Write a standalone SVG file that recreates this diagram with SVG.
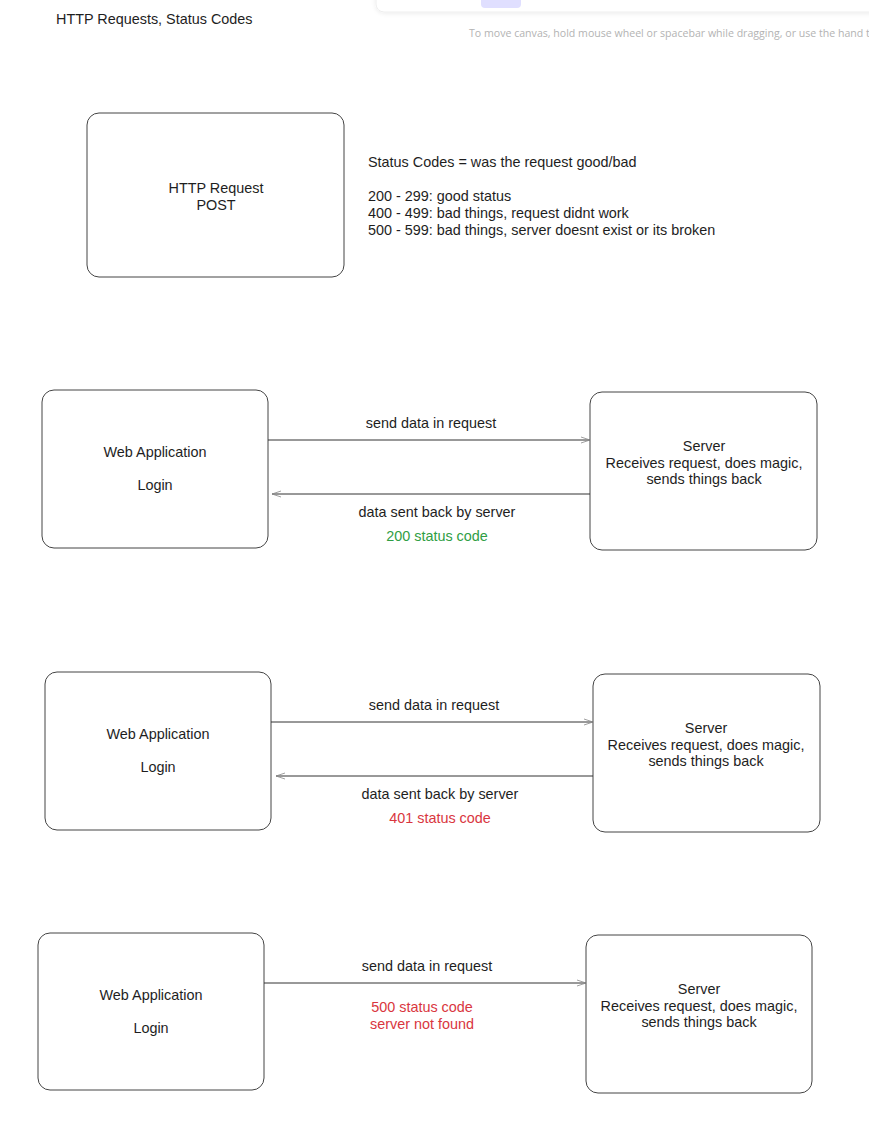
<svg xmlns="http://www.w3.org/2000/svg" width="869" height="1134" viewBox="0 0 869 1134">
<defs>
<filter id="sh" x="-5%" y="-50%" width="110%" height="200%"><feDropShadow dx="0" dy="1" stdDeviation="2" flood-color="#000" flood-opacity="0.08"/></filter>
<marker id="ah" markerWidth="12" markerHeight="8" refX="10" refY="4" orient="auto" markerUnits="userSpaceOnUse">
<path d="M1,1 L10,4 L1,7" fill="none" stroke="#888" stroke-width="0.8"/>
</marker>
</defs>
<style>
.t{font-family:"Liberation Sans",Arial,sans-serif;font-size:14.4px;fill:#1e1e1e}
.c{text-anchor:middle}
.box{fill:#fff;stroke:#444;stroke-width:1}
.ln{stroke:#333;stroke-width:1;fill:none}
.g{fill:#2f9e44}
.r{fill:#d9363e}
</style>
<rect width="869" height="1134" fill="#fff"/>
<g id="toolbar">
<rect x="376" y="-12" width="520" height="24" rx="8" fill="#fff" stroke="#eee" filter="url(#sh)"/>
<rect x="481" y="-8" width="40" height="16" rx="4" fill="#e0dfff"/>
<text x="469" y="37" font-family="'Open Sans','Noto Sans',sans-serif" font-size="10.6" fill="#b3b3b3">To move canvas, hold mouse wheel or spacebar while dragging, or use the hand t</text>
</g>
<g id="title"><text class="t" x="56" y="24">HTTP Requests, Status Codes</text></g>
<g id="http-request">
<rect class="box" x="87" y="113" width="257" height="164" rx="12"/>
<text class="t c" x="216" y="193">HTTP Request</text>
<text class="t c" x="216" y="210">POST</text>
</g>
<g id="status-notes">
<text class="t" x="368" y="167">Status Codes = was the request good/bad</text>
<text class="t" x="368" y="201">200 - 299: good status</text>
<text class="t" x="368" y="218">400 - 499: bad things, request didnt work</text>
<text class="t" x="368" y="235">500 - 599: bad things, server doesnt exist or its broken</text>
</g>
<g id="webapp1">
<rect class="box" x="42" y="390" width="226" height="158" rx="12"/>
<text class="t c" x="155" y="457">Web Application</text>
<text class="t c" x="155" y="490">Login</text>
</g>
<g id="server1">
<rect class="box" x="590" y="392" width="227" height="158" rx="12"/>
<text class="t c" x="704" y="451">Server</text>
<text class="t c" x="704" y="468">Receives request, does magic,</text>
<text class="t c" x="704" y="484">sends things back</text>
</g>
<g id="webapp2">
<rect class="box" x="45" y="672" width="226" height="158" rx="12"/>
<text class="t c" x="158" y="739">Web Application</text>
<text class="t c" x="158" y="772">Login</text>
</g>
<g id="server2">
<rect class="box" x="593" y="674" width="227" height="158" rx="12"/>
<text class="t c" x="706" y="733">Server</text>
<text class="t c" x="706" y="750">Receives request, does magic,</text>
<text class="t c" x="706" y="766">sends things back</text>
</g>
<g id="webapp3">
<rect class="box" x="38" y="933" width="226" height="157" rx="12"/>
<text class="t c" x="151" y="1000">Web Application</text>
<text class="t c" x="151" y="1033">Login</text>
</g>
<g id="server3">
<rect class="box" x="586" y="935" width="226" height="158" rx="12"/>
<text class="t c" x="699" y="994">Server</text>
<text class="t c" x="699" y="1011">Receives request, does magic,</text>
<text class="t c" x="699" y="1027">sends things back</text>
</g>
<g id="connectors">
<line class="ln" x1="268" y1="440" x2="590" y2="440" marker-end="url(#ah)"/>
<line class="ln" x1="590" y1="494" x2="272" y2="494" marker-end="url(#ah)"/>
<line class="ln" x1="271" y1="722" x2="593" y2="722" marker-end="url(#ah)"/>
<line class="ln" x1="593" y1="776" x2="276" y2="776" marker-end="url(#ah)"/>
<line class="ln" x1="264" y1="983" x2="586" y2="983" marker-end="url(#ah)"/>
<text class="t c" x="431" y="428">send data in request</text>
<text class="t c" x="437" y="517">data sent back by server</text>
<text class="t c g" x="437" y="541">200 status code</text>
<text class="t c" x="434" y="710">send data in request</text>
<text class="t c" x="440" y="799">data sent back by server</text>
<text class="t c r" x="440" y="823">401 status code</text>
<text class="t c" x="427" y="971">send data in request</text>
<text class="t c r" x="422" y="1012">500 status code</text>
<text class="t c r" x="422" y="1029">server not found</text>
</g>
</svg>
